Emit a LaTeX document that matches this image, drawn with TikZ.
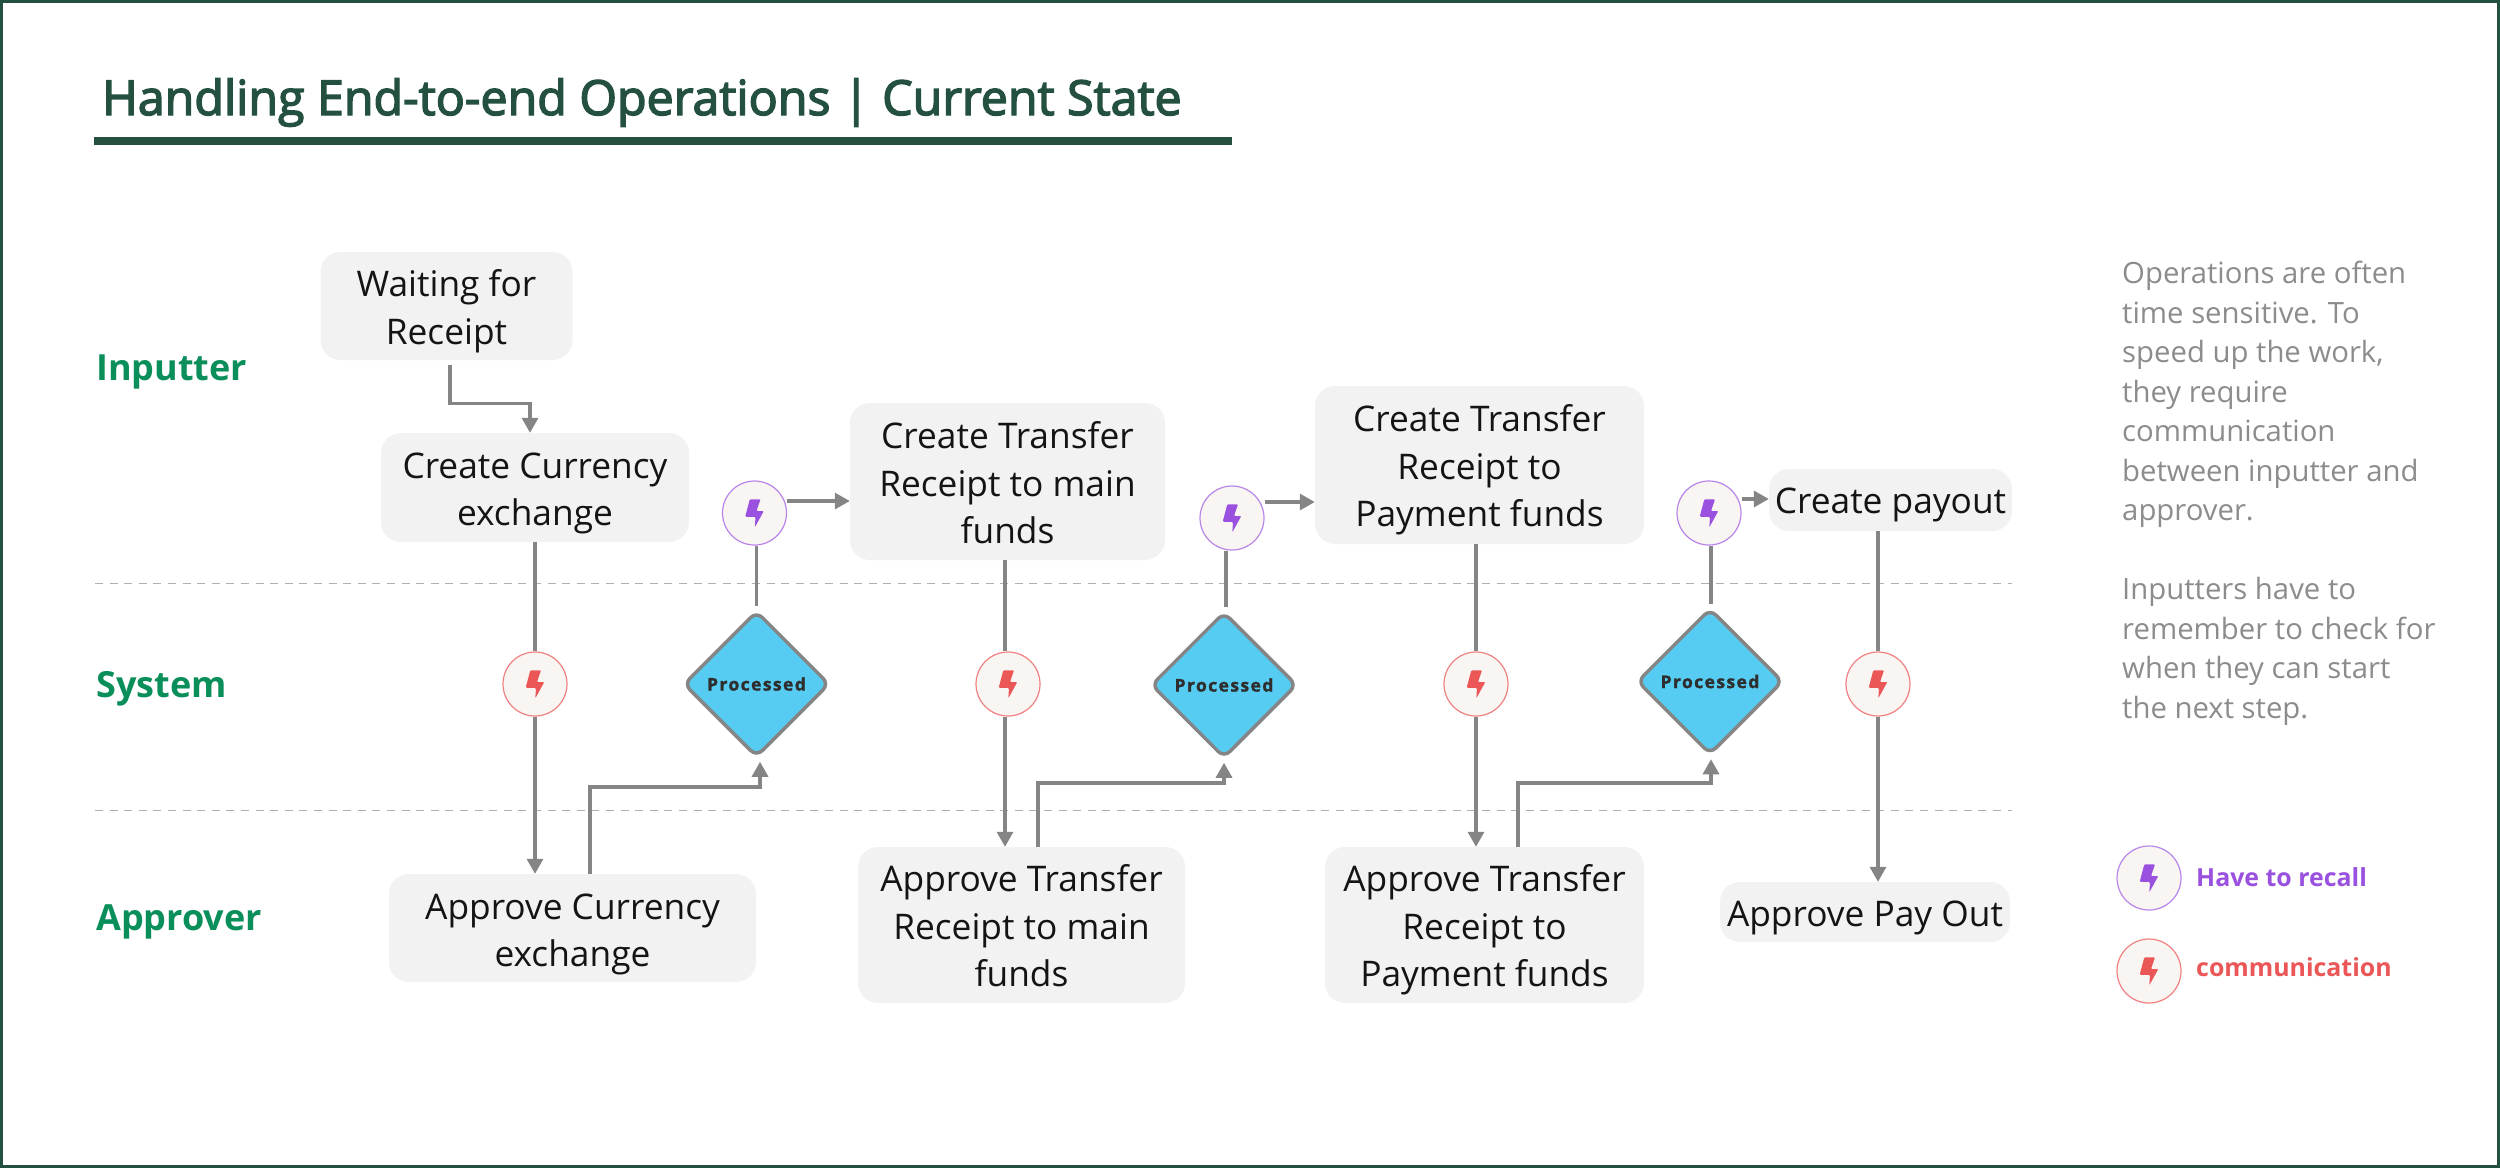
\documentclass[tikz,border=0pt]{standalone}
\usepackage{fontspec}
\setmainfont{Open Sans}
\newfontfamily\semib[FakeBold=3]{Open Sans}
\newfontfamily\procfont[LetterSpace=8,FakeBold=1.5]{Open Sans}
\usetikzlibrary{arrows.meta,shapes.geometric}
\definecolor{dkgreen}{HTML}{24503F}
\definecolor{lanecol}{HTML}{0A8F5A}
\definecolor{boxf}{HTML}{F2F2F2}
\definecolor{conncol}{HTML}{858585}
\definecolor{dashcol}{HTML}{AFAFAF}
\definecolor{notecol}{HTML}{8C8C8C}
\definecolor{purp}{HTML}{9B51E0}
\definecolor{redd}{HTML}{EB5757}
\definecolor{cfill}{HTML}{F8F5F3}
\definecolor{skycol}{HTML}{56CCF2}
\newcommand{\dn}[1]{\rule{0pt}{#1pt}}
\tikzset{
 x=1pt,y=-1pt,
 flow/.style={fill=boxf,rounded corners=20pt,inner sep=0pt,align=center,text=black!92,font=\fontsize{35.3}{47.5}\selectfont},
 lanelabel/.style={anchor=west,inner sep=0pt,text=lanecol,font=\fontsize{36}{40}\selectfont\bfseries},
 decide/.style={diamond,aspect=1,draw=conncol,line width=3.5pt,fill=skycol,rounded corners=8pt,minimum size=146pt,inner sep=0pt,text=black!82,font=\fontsize{17.5}{20}\procfont\bfseries},
 recall/.style={circle,draw=purp!70,line width=1.2pt,fill=cfill,minimum size=64pt,inner sep=0pt},
 comm/.style={circle,draw=redd!75,line width=1.2pt,fill=cfill,minimum size=64pt,inner sep=0pt},
 link/.style={draw=conncol,line width=3.2pt},
 arrowline/.style={link,-{Triangle[length=15pt,width=16pt]}},
 dashline/.style={draw=dashcol,line width=1.2pt,dash pattern=on 8pt off 6.6pt},
 pics/bolt/.style={code={\fill[#1,rounded corners=1pt] (-4.7,-13.7)--(6,-13.7)--(2,-2)--(9.3,-2)--(0.3,14.3)--(1,4)--(-9.3,3.7)--cycle;}},
}
\begin{document}
\begin{tikzpicture}
\useasboundingbox (0,0) rectangle (2500,1168);
\fill[white] (0,0) rectangle (2500,1168);
\draw[dkgreen,line width=3pt] (1.5,1.5) rectangle (2498.5,1166.5);
\node[anchor=base west,inner sep=0pt,text=dkgreen,font=\fontsize{48.3}{56}\semib] (title) at (102,115) {Handling End-to-end Operations | Current State};
\fill[dkgreen] (94,136.5) rectangle (1232,144.5);
\draw[dashline] (95,583.5) -- (2012,583.5);
\draw[dashline] (95,810.5) -- (2012,810.5);
\node[lanelabel] (l1) at (96,372) {Inputter};
\node[lanelabel] (l2) at (96,689) {System};
\node[lanelabel] (l3) at (96,922) {Approver};
% boxes
\node[flow,minimum width=252pt,minimum height=108pt] (wait) at (446.5,306) {\dn{37}Waiting for\\Receipt};
\node[flow,minimum width=308pt,minimum height=109pt] (cc) at (535,487.5) {\dn{37}Create Currency\\exchange};
\node[flow,minimum width=315pt,minimum height=157pt] (ct1) at (1007.5,481.5) {\dn{30}Create Transfer\\Receipt to main\\funds};
\node[flow,minimum width=329pt,minimum height=158pt] (ct2) at (1479.5,465) {\dn{37}Create Transfer\\Receipt to\\Payment funds};
\node[flow,minimum width=243pt,minimum height=62pt] (cp) at (1890.5,500) {\dn{35}Create payout};
\node[flow,minimum width=367pt,minimum height=108pt] (ac) at (572.5,928) {\dn{38}Approve Currency\\exchange};
\node[flow,minimum width=327pt,minimum height=156pt] (at1) at (1021.5,925) {\dn{29}Approve Transfer\\Receipt to main\\funds};
\node[flow,minimum width=319pt,minimum height=156pt] (at2) at (1484.5,925) {\dn{37}Approve Transfer\\Receipt to\\Payment funds};
\node[flow,minimum width=290pt,minimum height=60pt] (ap) at (1865,912) {\dn{37}Approve Pay Out};
% diamonds
\node[decide] (d1) at (756.5,684) {Processed};
\node[decide] (d2) at (1224,685) {Processed};
\node[decide] (d3) at (1710,681.5) {Processed};
% circles
\node[recall] (p1) at (754.5,513) {};
\node[recall] (p2) at (1232,518) {};
\node[recall] (p3) at (1709,513) {};
\node[comm] (r1) at (535,684) {};
\node[comm] (r2) at (1008,684) {};
\node[comm] (r3) at (1476,684) {};
\node[comm] (r4) at (1878,684) {};
\foreach \n in {p1,p2,p3} \pic at (\n) {bolt=purp};
\foreach \n in {r1,r2,r3,r4} \pic at (\n) {bolt=redd};
% connectors
\draw[arrowline] ([xshift=3.5pt]wait.south) ++(0,5) -- ++(0,38) -| (cc.north -| 530,0);
\draw[link] (cc.south -| r1) -- (r1.north);
\draw[arrowline] (r1.south) -- (ac.north -| r1);
\draw[arrowline,shorten >=3pt] (ac.north -| 590,0) |- (760,787) -- (d1.south -| 760,0);
\draw[link,shorten <=3pt] (d1.north) -- (p1.south -| d1);
\draw[arrowline] (p1.east |- 0,501) -- (ct1.west |- 0,501);
\draw[link] (ct1.south -| 1005,0) -- (r2.north -| 1005,0);
\draw[arrowline] (r2.south -| 1005,0) -- (at1.north -| 1005,0);
\draw[arrowline,shorten >=3pt] (at1.north -| 1038,0) |- (1224,783) -- (d2.south -| 1224,0);
\draw[link,shorten <=3pt] (d2.north -| 1226,0) -- (p2.south -| 1226,0);
\draw[arrowline] (p2.east |- 0,502) -- (ct2.west |- 0,502);
\draw[link] (ct2.south -| r3) -- (r3.north);
\draw[arrowline] (r3.south) -- (at2.north -| r3);
\draw[arrowline,shorten >=3pt] (at2.north -| 1518,0) |- (1711,783) -- (d3.south -| 1711,0);
\draw[link,shorten <=3pt] (d3.north -| 1711,0) -- (p3.south -| 1711,0);
\draw[arrowline] (p3.east |- 0,499) -- (cp.west |- 0,499);
\draw[link] (cp.south -| r4) -- (r4.north);
\draw[arrowline] (r4.south) -- (ap.north -| r4);
% note
\node[anchor=north west,inner sep=0pt,align=left,text=notecol,font=\fontsize{29.3}{39.5}\selectfont] (note) at (2122,261) {Operations are often\\time sensitive. To\\speed up the work,\\they require\\communication\\between inputter and\\approver.\\[39.5pt]Inputters have to\\remember to check for\\when they can start\\the next step.};
% legend
\node[recall] (lp) at (2149,878) {};
\node[comm] (lr) at (2149,971) {};
\pic at (lp) {bolt=purp};
\pic at (lr) {bolt=redd};
\node[anchor=west,inner sep=0pt,text=purp,font=\fontsize{24.9}{30}\selectfont\bfseries] (tp) at (2196,877) {Have to recall};
\node[anchor=west,inner sep=0pt,text=redd,font=\fontsize{24.9}{30}\selectfont\bfseries] (tr) at (2196,967) {communication};
\end{tikzpicture}
\end{document}
